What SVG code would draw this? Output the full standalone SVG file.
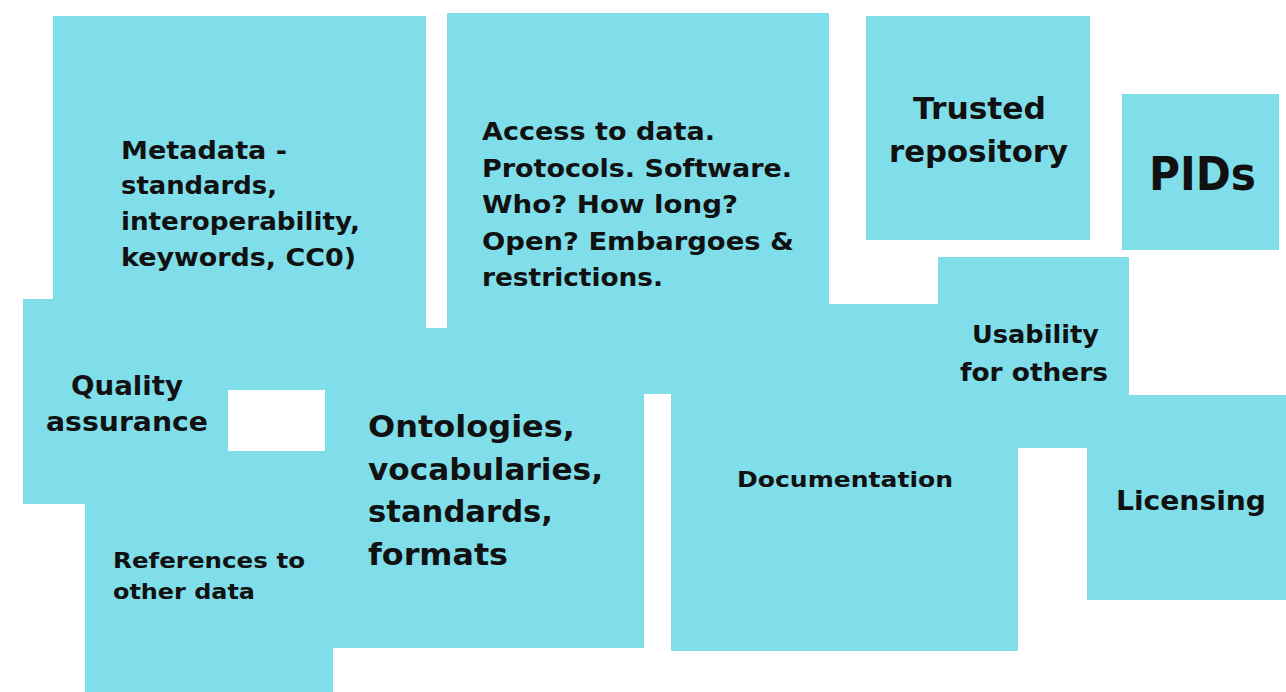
<svg xmlns="http://www.w3.org/2000/svg" width="1286" height="692" viewBox="0 0 1286 692">
<style>
.box{fill:#80deea}
text{font-family:"DejaVu Sans","Liberation Sans",sans-serif;font-weight:bold;fill:#111}
</style>
<rect width="1286" height="692" fill="#ffffff"/>
<g id="metadata"><rect class="box" x="53" y="16" width="373" height="374"/>
<text font-size="24"><tspan x="121" y="159" textLength="166" lengthAdjust="spacingAndGlyphs">Metadata -</tspan><tspan x="121" y="194" textLength="156" lengthAdjust="spacingAndGlyphs">standards,</tspan><tspan x="121" y="230" textLength="239" lengthAdjust="spacingAndGlyphs">interoperability,</tspan><tspan x="121" y="266" textLength="235" lengthAdjust="spacingAndGlyphs">keywords, CC0)</tspan></text></g>
<g id="access"><rect class="box" x="447" y="13" width="382" height="381"/>
<text font-size="24"><tspan x="482" y="140" textLength="233" lengthAdjust="spacingAndGlyphs">Access to data.</tspan><tspan x="482" y="177" textLength="310" lengthAdjust="spacingAndGlyphs">Protocols. Software.</tspan><tspan x="482" y="213" textLength="256" lengthAdjust="spacingAndGlyphs">Who? How long?</tspan><tspan x="482" y="250" textLength="312" lengthAdjust="spacingAndGlyphs">Open? Embargoes &amp;</tspan><tspan x="482" y="286" textLength="181" lengthAdjust="spacingAndGlyphs">restrictions.</tspan></text></g>
<g id="trusted"><rect class="box" x="866" y="16" width="224" height="224"/>
<text font-size="31"><tspan x="913" y="119" textLength="133" lengthAdjust="spacingAndGlyphs">Trusted</tspan><tspan x="889" y="162" textLength="179" lengthAdjust="spacingAndGlyphs">repository</tspan></text></g>
<g id="pids"><rect class="box" x="1122" y="94" width="157" height="156"/>
<text font-size="46" x="1149" y="190" textLength="107" lengthAdjust="spacingAndGlyphs">PIDs</text></g>
<g id="quality"><rect class="box" x="23" y="299" width="205" height="205"/>
<text font-size="27"><tspan x="71" y="395" textLength="112" lengthAdjust="spacingAndGlyphs">Quality</tspan><tspan x="46" y="431" textLength="162" lengthAdjust="spacingAndGlyphs">assurance</tspan></text></g>
<g id="ontologies"><rect class="box" x="325" y="328" width="319" height="320"/>
<text font-size="31"><tspan x="368" y="437" textLength="207" lengthAdjust="spacingAndGlyphs">Ontologies,</tspan><tspan x="368" y="480" textLength="235" lengthAdjust="spacingAndGlyphs">vocabularies,</tspan><tspan x="368" y="522" textLength="185" lengthAdjust="spacingAndGlyphs">standards,</tspan><tspan x="368" y="565" textLength="140" lengthAdjust="spacingAndGlyphs">formats</tspan></text></g>
<g id="references"><rect class="box" x="85" y="451" width="248" height="241"/>
<text font-size="22"><tspan x="113" y="568" textLength="192" lengthAdjust="spacingAndGlyphs">References to</tspan><tspan x="113" y="599" textLength="142" lengthAdjust="spacingAndGlyphs">other data</tspan></text></g>
<g id="documentation"><rect class="box" x="671" y="304" width="347" height="347"/>
<text font-size="22" x="737" y="487" textLength="216" lengthAdjust="spacingAndGlyphs">Documentation</text></g>
<g id="usability"><rect class="box" x="938" y="257" width="191" height="191"/>
<text font-size="24"><tspan x="972" y="343" textLength="127" lengthAdjust="spacingAndGlyphs">Usability</tspan><tspan x="960" y="381" textLength="148" lengthAdjust="spacingAndGlyphs">for others</tspan></text></g>
<g id="licensing"><rect class="box" x="1087" y="395" width="199" height="205"/>
<text font-size="27" x="1116" y="510" textLength="150" lengthAdjust="spacingAndGlyphs">Licensing</text></g>
<g id="connectors"/>
</svg>
